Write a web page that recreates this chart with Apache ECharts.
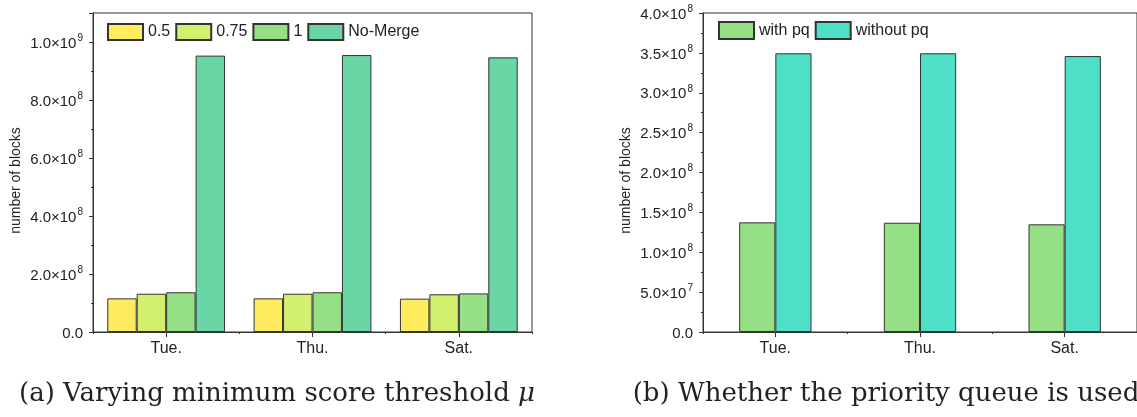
<!DOCTYPE html>
<html>
<head>
<meta charset="utf-8">
<script src="https://cdn.jsdelivr.net/npm/echarts@6/dist/echarts.min.js"></script>
<style>html,body{margin:0;padding:0;background:#fff}#c{width:1137px;height:417px}</style>
</head>
<body>
<div id="c"></div>
<script>
var categories = ['Tue.', 'Thu.', 'Sat.'];
// (a) Varying minimum score threshold
var mu05 = [1.16e8, 1.16e8, 1.15e8];
var mu075 = [1.32e8, 1.32e8, 1.30e8];
var mu1 = [1.37e8, 1.37e8, 1.33e8];
var noMerge = [9.53e8, 9.55e8, 9.47e8];
// (b) priority queue
var withPq = [1.375e8, 1.37e8, 1.35e8];
var withoutPq = [3.495e8, 3.495e8, 3.46e8];
var yNameText = 'number of blocks';
var captionA = '(a) Varying minimum score threshold ';
var captionB = '(b) Whether the priority queue is used';

var FONT = 'Liberation Sans, Arial, sans-serif';
var TXT = '#222';

function sciLabel(step) {
  return function (v) {
    if (Math.abs(v / step - Math.round(v / step)) > 1e-6) return '';
    if (v === 0) return '{a|0.0}';
    var e = Math.floor(Math.log10(v) + 1e-9);
    var m = v / Math.pow(10, e);
    return '{a|' + m.toFixed(1) + '×10}{s|' + e + '}';
  };
}
var rich = {
  a: {fontSize: 15, fontFamily: FONT, color: TXT, lineHeight: 18, verticalAlign: 'bottom'},
  s: {fontSize: 10, fontFamily: FONT, color: TXT, lineHeight: 18, verticalAlign: 'top', padding: [0, 0, 0, 1]}
};

function valueAxis(gridIndex, max, interval) {
  return {
    type: 'value', gridIndex: gridIndex, min: 0, max: max, interval: interval,
    name: yNameText, nameLocation: 'middle', nameGap: 70,
    nameTextStyle: {fontSize: 14, fontFamily: FONT, color: TXT, padding: [0, 16, 0, 0]},
    axisLine: {show: true, lineStyle: {color: '#333', width: 1}},
    axisTick: {show: true, length: 4, lineStyle: {color: '#333'}},
    minorTick: {show: true, splitNumber: 2, length: 2, lineStyle: {color: '#333'}},
    splitLine: {show: false},
    axisLabel: {margin: 10, formatter: sciLabel(interval), rich: rich}
  };
}
function catAxis(gridIndex) {
  return {
    type: 'category', gridIndex: gridIndex, data: categories,
    axisLine: {show: true, lineStyle: {color: '#333', width: 1}},
    axisTick: {show: true, alignWithLabel: true, length: 5, lineStyle: {color: '#333'}},
    axisLabel: {margin: 9, fontSize: 16, fontFamily: FONT, color: TXT}
  };
}
function boundaryAxis(gridIndex) {
  return {
    type: 'category', gridIndex: gridIndex, data: categories, position: 'bottom',
    axisLine: {show: false},
    axisTick: {show: true, length: 2, lineStyle: {color: '#333'}},
    axisLabel: {show: false}
  };
}
function bar(name, data, color, xi, yi, gap) {
  return {
    type: 'bar', name: name, data: data, xAxisIndex: xi, yAxisIndex: yi,
    barGap: '0%', barCategoryGap: gap,
    itemStyle: {color: color, borderColor: '#333', borderWidth: 1}
  };
}

var chart = echarts.init(document.getElementById('c'), null, {renderer: 'canvas'});
chart.setOption({
  animation: false,
  backgroundColor: '#fff',
  title: [
    {text: captionA + '{i|μ}', left: 277, top: 381, textAlign: 'center', padding: 0,
     textStyle: {fontFamily: 'DejaVu Serif', fontSize: 26, fontWeight: 'normal', color: '#222',
       rich: {i: {fontFamily: 'DejaVu Serif', fontStyle: 'italic', fontSize: 26, color: '#222'}}}},
    {text: captionB, left: 886, top: 381, textAlign: 'center', padding: 0,
     textStyle: {fontFamily: 'DejaVu Serif', fontSize: 26, fontWeight: 'normal', color: '#222'}}
  ],
  grid: [
    {left: 93, top: 13, width: 439, bottom: 85, show: true, borderColor: '#333', borderWidth: 1, backgroundColor: 'transparent'},
    {left: 703, top: 13, width: 440, bottom: 85, show: true, borderColor: '#333', borderWidth: 1, backgroundColor: 'transparent'}
  ],
  legend: [
    {data: ['0.5', '0.75', '1', 'No-Merge'], left: 107, top: 23, padding: 0, itemWidth: 35, itemHeight: 16, itemGap: 5,
     icon: 'rect', textStyle: {fontSize: 16, fontFamily: FONT, color: TXT}},
    {data: ['with pq', 'without pq'], left: 718, top: 21, padding: 0, itemWidth: 35, itemHeight: 17, itemGap: 5,
     icon: 'rect', textStyle: {fontSize: 16, fontFamily: FONT, color: TXT}}
  ],
  xAxis: [catAxis(0), boundaryAxis(0), catAxis(1), boundaryAxis(1)],
  yAxis: [valueAxis(0, 1.1e9, 2e8), valueAxis(1, 4e8, 5e7)],
  series: [
    bar('0.5', mu05, '#FFEB5E', 0, 0, '19.5%'),
    bar('0.75', mu075, '#D3EF6E', 0, 0, '19.5%'),
    bar('1', mu1, '#95E085', 0, 0, '19.5%'),
    bar('No-Merge', noMerge, '#6AD6A5', 0, 0, '19.5%'),
    bar('with pq', withPq, '#95E085', 2, 1, '50%'),
    bar('without pq', withoutPq, '#4EDFC7', 2, 1, '50%')
  ]
});
</script>
</body>
</html>
